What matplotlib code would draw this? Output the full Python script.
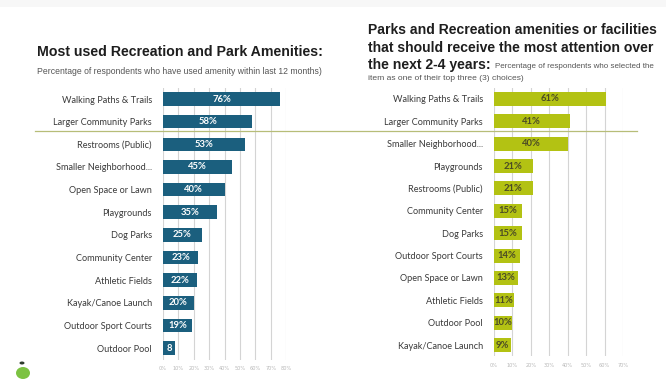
import matplotlib
matplotlib.use("Agg")
import matplotlib.pyplot as plt
from matplotlib.patches import Ellipse

W, H = 666, 379

# Most used amenities (past 12 months)
used_categories = ["Walking Paths & Trails", "Larger Community Parks", "Restrooms (Public)",
                   "Smaller Neighborhood...", "Open Space or Lawn", "Playgrounds", "Dog Parks",
                   "Community Center", "Athletic Fields", "Kayak/Canoe Launch",
                   "Outdoor Sport Courts", "Outdoor Pool"]
used_values = [76, 58, 53, 45, 40, 35, 25, 23, 22, 20, 19, 8]
used_labels = ["76%", "58%", "53%", "45%", "40%", "35%", "25%", "23%", "22%", "20%", "19%", "8"]
used_ticks = [0, 10, 20, 30, 40, 50, 60, 70, 80]

# Amenities that should receive the most attention (next 2-4 years)
priority_categories = ["Walking Paths & Trails", "Larger Community Parks", "Smaller Neighborhood...",
                       "Playgrounds", "Restrooms (Public)", "Community Center", "Dog Parks",
                       "Outdoor Sport Courts", "Open Space or Lawn", "Athletic Fields",
                       "Outdoor Pool", "Kayak/Canoe Launch"]
priority_values = [61, 41, 40, 21, 21, 15, 15, 14, 13, 11, 10, 9]
priority_labels = ["61%", "41%", "40%", "21%", "21%", "15%", "15%", "14%", "13%", "11%", "10%", "9%"]
priority_ticks = [0, 10, 20, 30, 40, 50, 60, 70]

LABEL_FONT = "Lato"
TITLE_FONT = "Liberation Sans"


def fx(x):
    return x / W


def fy(y):
    return 1 - y / H


def px_axes(fig, left, top, right, bottom):
    return fig.add_axes([fx(left), fy(bottom), (right - left) / W, (bottom - top) / H])


fig = plt.figure(figsize=(W / 100, H / 100), dpi=100)
fig.patch.set_facecolor("white")


def draw_panel(ax, cats, vals, labels, ticks, color, text_color, bar_h):
    n = len(cats)
    ypos = list(range(n))
    ax.barh(ypos, vals, height=bar_h, color=color, zorder=3)
    ax.set_ylim(n - 0.5, -0.5)
    ax.set_xlim(ticks[0], ticks[-1])
    ax.set_yticks(ypos)
    ax.set_yticklabels(cats, fontsize=6.6, family=LABEL_FONT, color="#3a3a3a")
    ax.set_xticks(ticks)
    ax.set_xticklabels([f"{t}%" for t in ticks], fontsize=3.6, color="#b8b8b8")
    ax.tick_params(axis="both", length=0, pad=5)
    ax.tick_params(axis="y", pad=8)
    for s in ax.spines.values():
        s.set_visible(False)
    for t in ticks:
        ax.axvline(t, color="#d4d4d4", lw=0.8, zorder=1)
    for y, v, lab in zip(ypos, vals, labels):
        ax.text(v / 2, y, lab, ha="center", va="center", fontsize=6.8,
                fontweight="bold", family=LABEL_FONT, color=text_color, zorder=4)


ax1 = px_axes(fig, 163, 87.7, 286.2, 359.5)
draw_panel(ax1, used_categories, used_values, used_labels, used_ticks,
           "#1b5f7e", "white", 0.6)

ax2 = px_axes(fig, 494, 87.8, 623, 356.2)
draw_panel(ax2, priority_categories, priority_values, priority_labels, priority_ticks,
           "#b3c213", "#4b4b25", 0.63)

# divider line across both panels
fig.add_artist(plt.Line2D([fx(35), fx(637)], [fy(131), fy(131)],
                          transform=fig.transFigure, color="#b7bd78", lw=0.9))

# faint band at the top edge
fig.add_artist(plt.Rectangle((0, fy(7)), 1, 7 / H, transform=fig.transFigure,
                             color="#f7f7f7", lw=0))

sub = dict(family=TITLE_FONT, color="#555555", va="center", ha="left")

# left titles
fig.text(fx(37), fy(52), "Most used Recreation and Park Amenities:", fontsize=10.2,
         fontweight="bold", family=TITLE_FONT, color="#1e1e1e", va="center", ha="left")
fig.text(fx(37), fy(72), "Percentage of respondents who have used amenity within last 12 months)",
         fontsize=6.2, **sub)

# right titles
rt = dict(fontsize=10.1, fontweight="bold", family=TITLE_FONT, color="#1e1e1e",
          va="center", ha="left")
fig.text(fx(368), fy(30), "Parks and Recreation amenities or facilities", **rt)
fig.text(fx(368), fy(48), "that should receive the most attention over", **rt)
t3 = fig.text(fx(368), fy(65), "the next 2-4 years:", **rt)
fig.canvas.draw()
bb = t3.get_window_extent()
fig.text(bb.x1 / W + fx(4), fy(66), "Percentage of respondents who selected the",
         fontsize=5.8, **sub)
fig.text(fx(368), fy(78), "item as one of their top three (3) choices)",
         fontsize=6.1, **sub)

# small logo mark, bottom left
fig.add_artist(Ellipse((fx(23), fy(373)), 14 / W, 12 / H, transform=fig.transFigure,
                       color="#7cc242", lw=0))
fig.add_artist(Ellipse((fx(22), fy(363)), 5 / W, 3 / H, transform=fig.transFigure,
                       color="#2d3a2d", lw=0))

fig.savefig("out.png", dpi=100, facecolor="white")
